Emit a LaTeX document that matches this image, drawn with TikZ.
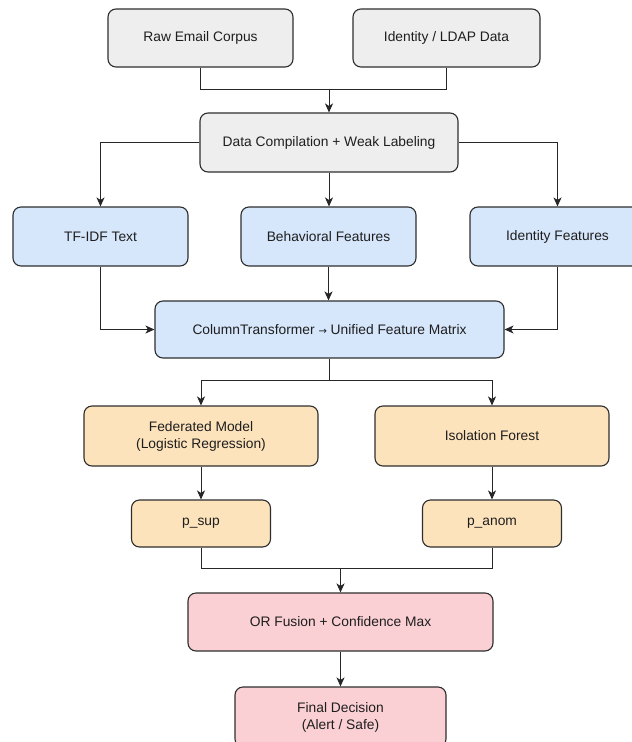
\documentclass[tikz,border=0pt]{standalone}
\usepackage{fontspec}
\setmainfont{Liberation Sans}
\newfontfamily\djv{DejaVu Sans}
\usetikzlibrary{arrows.meta}
\definecolor{grayfill}{HTML}{EEEEEE}
\definecolor{bluefill}{HTML}{D6E6FB}
\definecolor{orangefill}{HTML}{FDE3BC}
\definecolor{pinkfill}{HTML}{FAD0D4}
\definecolor{edge}{HTML}{2E2E2E}
\definecolor{txt}{HTML}{1E1E1E}
\begin{document}
\begin{tikzpicture}[x=1pt,y=-1pt,
  box/.style={draw=edge, line width=1.1pt, rounded corners=8pt, inner sep=0pt,
    align=center, text=txt, font=\fontsize{13.8}{17}\selectfont},
  graybox/.style={box, fill=grayfill},
  bluebox/.style={box, fill=bluefill},
  orangebox/.style={box, fill=orangefill},
  pinkbox/.style={box, fill=pinkfill},
  conn/.style={draw=black!85, line width=0.9pt},
  arr/.style={conn, -{Stealth[length=9pt,width=8pt,inset=2.5pt]}}
]
\path[use as bounding box] (0,0) rectangle (632,742);

\node[graybox, minimum width=185pt, minimum height=58pt] (raw) at (200.5,38) {Raw Email Corpus};
\node[graybox, minimum width=187pt, minimum height=58pt] (ldap) at (446.5,38) {Identity / LDAP Data};
\node[graybox, minimum width=258pt, minimum height=59pt] (comp) at (329,142.5) {Data Compilation + Weak Labeling};

\node[bluebox, minimum width=175pt, minimum height=59pt] (tfidf) at (100.5,236.5) {TF-IDF Text};
\node[bluebox, minimum width=175pt, minimum height=59pt] (behav) at (328.5,236.5) {Behavioral Features};
\node[bluebox, minimum width=175pt, minimum height=59pt] (idf) at (557.5,236.5) {Identity Features};

\node[bluebox, minimum width=349pt, minimum height=57pt] (ct) at (329.5,329.5) {ColumnTransformer {\djv\fontsize{10}{12}\selectfont →} Unified Feature Matrix};

\node[orangebox, minimum width=234pt, minimum height=60pt] (fed) at (201,436) {Federated Model\\(Logistic Regression)};
\node[orangebox, minimum width=234pt, minimum height=60pt] (iso) at (492,436) {Isolation Forest};
\node[orangebox, minimum width=139pt, minimum height=47pt] (psup) at (201,523.5) {p\_sup};
\node[orangebox, minimum width=139pt, minimum height=47pt] (panom) at (492,523.5) {p\_anom};

\node[pinkbox, minimum width=305pt, minimum height=58pt] (orf) at (340.5,622) {OR Fusion + Confidence Max};
\node[pinkbox, minimum width=211pt, minimum height=60pt] (final) at (340.5,717) {Final Decision\\(Alert / Safe)};

\coordinate (j1) at (329,89);
\coordinate (j2) at (329.5,380);
\coordinate (j3) at (340.5,568);

\draw[conn] (raw.south) |- (j1);
\draw[conn] (ldap.south) |- (j1);
\draw[arr] (j1) -- (comp.north);

\draw[arr] (comp.west) -| (tfidf.north);
\draw[arr] (comp.south) -- (comp.south |- behav.north);
\draw[arr] (comp.east) -| (idf.north);

\draw[arr] (tfidf.south) |- (ct.west);
\draw[arr] (behav.south) -- (behav.south |- ct.north);
\draw[arr] (idf.south) |- (ct.east);

\draw[conn] (ct.south) -- (j2);
\draw[arr] (j2) -| (fed.north);
\draw[arr] (j2) -| (iso.north);

\draw[arr] (fed.south) -- (psup.north);
\draw[arr] (iso.south) -- (panom.north);

\draw[conn] (psup.south) |- (j3);
\draw[conn] (panom.south) |- (j3);
\draw[arr] (j3) -- (orf.north);
\draw[arr] (orf.south) -- (final.north);
\end{tikzpicture}
\end{document}
